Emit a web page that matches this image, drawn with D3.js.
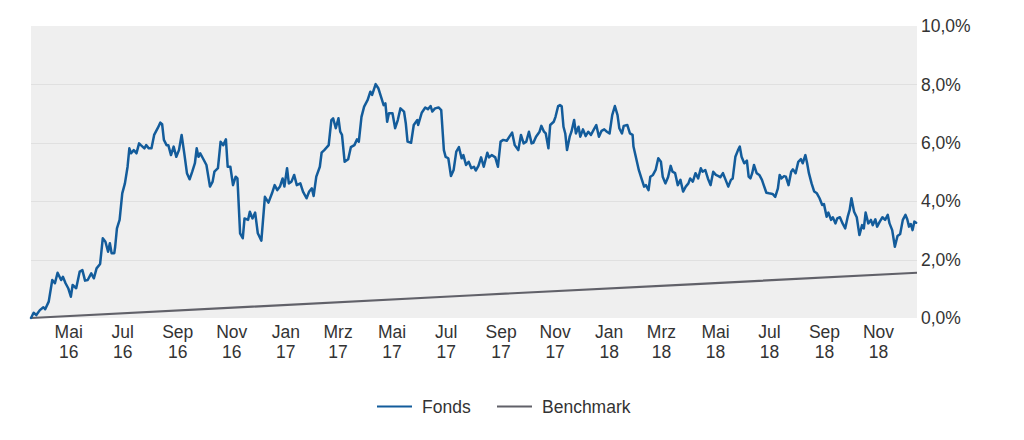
<!DOCTYPE html>
<html>
<head>
<meta charset="utf-8">
<script src="https://cdn.jsdelivr.net/npm/d3@7"></script>
<style>
  html, body { margin: 0; padding: 0; background: #ffffff; }
  svg { display: block; font-family: "Liberation Sans", Arial, sans-serif; }
</style>
</head>
<body>
<svg id="chart" width="1024" height="440"></svg>
<script>
// ---- DATA ----
const startDate = "2016-03-20";
const spanDays = 1000;

// day offsets from startDate for the Fonds series
const fondsDays = [
  0,3,6,10,14,16,20,24,27,30,
  34,36,39,42,45,47,51,55,58,61,
  64,68,71,74,78,81,84,87,89,91,
  94,95,97,100,103,106,109,111,113,116,
  119,122,124,128,130,133,136,139,143,146,
  148,150,153,155,158,161,164,167,170,173,
  176,179,182,185,187,189,191,194,198,202,
  205,207,211,214,217,220,222,225,228,231,
  233,236,239,241,245,247,250,253,256,260,
  264,268,272,275,278,281,284,286,289,291,
  294,297,300,304,307,311,314,317,319,322,
  326,328,331,334,336,339,341,344,347,349,
  351,354,358,361,365,368,370,373,376,380,
  383,385,389,392,395,398,400,402,404,408,
  411,414,417,421,423,425,429,432,436,437,
  441,445,448,451,453,456,460,463,466,468,
  471,474,477,480,483,486,488,491,494,497,
  500,502,505,508,511,515,517,520,524,527,
  530,533,537,540,543,546,550,553,556,559,
  562,565,567,570,574,576,579,581,584,586,
  590,592,595,597,599,601,603,605,608,610,
  613,615,618,620,623,626,629,632,635,638,
  641,644,647,650,653,656,659,662,664,667,
  669,673,676,679,680,683,686,689,692,694,
  697,699,702,705,708,711,713,716,719,722,
  724,727,730,733,736,739,742,744,747,750,
  753,756,758,761,764,767,770,773,776,778,
  781,784,787,790,792,795,798,800,802,805,
  808,810,812,814,816,819,822,825,827,830,
  833,837,840,843,845,847,850,852,855,858,
  860,863,866,869,871,874,876,878,881,884,
  887,890,893,895,898,900,903,905,908,910,
  913,916,919,922,924,926,929,932,935,938,
  940,942,945,948,950,953,955,958,961,964,
  967,969,972,975,978,981,984,987,989,991,
  993,995,997,999
];
// Fonds performance in %
const fondsValues = [
  0.00,0.18,0.10,0.27,0.37,0.30,0.56,1.30,1.19,1.55,
  1.30,1.41,1.19,1.02,0.73,1.13,1.02,1.59,1.64,1.28,
  1.30,1.53,1.36,1.70,1.85,2.73,2.61,2.27,2.56,2.22,
  2.22,2.44,3.07,3.36,4.27,4.61,5.18,5.81,5.64,5.75,
  5.64,5.98,5.92,5.81,5.92,5.81,5.81,6.27,6.50,6.69,
  6.64,6.10,5.92,5.92,5.58,5.87,5.52,5.75,6.27,5.64,
  4.96,4.75,5.01,5.30,5.81,5.52,5.64,5.47,5.24,4.50,
  4.67,5.01,5.13,6.04,5.92,6.12,5.18,5.18,4.55,4.84,
  4.78,2.90,2.73,3.41,3.36,3.64,3.41,3.61,2.90,2.65,
  4.15,3.95,4.27,4.55,4.38,4.50,4.78,4.50,5.13,4.61,
  4.67,4.90,4.55,4.61,4.33,4.10,4.33,4.44,4.18,4.84,
  5.18,5.66,5.75,5.85,5.92,6.78,6.84,6.50,6.84,6.38,
  6.27,5.35,5.44,5.85,5.92,6.12,6.04,6.89,7.24,7.47,
  7.75,7.64,8.01,7.87,7.58,7.29,7.35,6.72,7.01,7.01,
  6.50,6.78,7.18,7.07,6.67,6.04,6.00,6.61,6.78,6.61,
  7.03,7.21,7.15,7.26,7.07,7.18,7.21,7.12,5.75,5.52,
  5.47,4.86,5.07,5.70,5.85,5.47,5.58,5.24,5.35,5.13,
  5.18,5.05,5.21,5.50,5.18,5.66,5.50,5.58,5.50,5.18,
  6.04,6.10,6.07,6.21,6.35,5.92,5.75,6.27,5.98,6.04,
  6.38,5.98,6.00,6.21,6.38,6.58,6.38,6.32,5.81,6.61,
  6.72,6.89,7.26,7.29,7.25,6.55,6.32,5.75,6.21,6.38,
  6.78,6.32,6.55,6.21,6.46,6.23,6.38,6.27,6.44,6.61,
  6.21,6.41,6.46,6.38,6.32,6.95,7.26,6.95,6.50,6.32,
  6.58,6.61,6.32,6.27,5.87,5.47,5.07,4.78,4.50,4.55,
  4.38,4.84,4.90,5.07,5.47,5.35,4.84,4.61,4.82,5.21,
  5.01,4.96,4.55,4.73,4.33,4.50,4.61,4.78,4.67,4.96,
  4.78,5.13,5.01,5.07,4.78,4.55,5.01,4.90,4.86,4.82,
  4.96,4.73,4.50,4.73,4.78,5.52,5.75,5.87,5.52,5.30,
  5.39,4.84,4.78,4.96,5.24,4.96,4.90,4.73,4.55,4.29,
  4.27,4.25,4.15,4.44,4.90,4.78,4.86,4.84,4.55,5.01,
  5.09,4.96,5.35,5.44,5.30,5.58,5.30,4.96,4.61,4.33,
  4.27,4.10,3.87,3.90,3.47,3.61,3.36,3.45,3.24,3.41,
  3.45,3.24,3.07,3.49,3.70,4.10,3.64,3.45,2.84,3.18,
  3.07,3.61,3.24,3.36,3.18,3.38,3.13,3.30,3.45,3.36,
  3.53,3.24,3.01,2.44,2.81,2.88,3.36,3.53,3.38,3.13,
  3.22,3.01,3.30,3.26
];

// Benchmark (read at a few dates; it is a straight line)
const benchDays   = [0, 250, 500, 750, 1000];
const benchValues = [0.00, 0.39, 0.78, 1.16, 1.55];

const yTicks = [0, 2, 4, 6, 8, 10];
const monthLabels = ["Jan","Feb","Mrz","Apr","Mai","Jun","Jul","Aug","Sep","Okt","Nov","Dez"];
const seriesNames = ["Fonds", "Benchmark"];
const seriesColors = ["#135c9b", "#616169"];

// ---- CHART ----
const FS = 17.5;
const svg = d3.select("#chart");
const margin = { left: 31, right: 1024 - 917, top: 26, bottom: 440 - 318 };
const W = 1024, H = 440;
const x0 = margin.left, x1 = W - margin.right, y0 = H - margin.bottom, y1 = margin.top;

const start = d3.timeParse("%Y-%m-%d")(startDate);
const end = d3.timeDay.offset(start, spanDays);

const x = d3.scaleTime().domain([start, end]).range([x0, x1]);
const y = d3.scaleLinear().domain([0, 10]).range([y0, y1]);

const de = d3.formatLocale({ decimal: ",", thousands: ".", grouping: [3], currency: ["", " €"] });
const fmt = de.format(".1f");

// plot background
svg.append("rect")
  .attr("x", x0).attr("y", y1)
  .attr("width", x1 - x0).attr("height", y0 - y1)
  .attr("fill", "#efefef");

// gridlines
svg.append("g").selectAll("line").data(yTicks.filter(t => t > 0 && t < 10)).join("line")
  .attr("x1", x0).attr("x2", x1)
  .attr("y1", d => Math.round(y(d)) + 0.5).attr("y2", d => Math.round(y(d)) + 0.5)
  .attr("stroke", "#e0e0e0").attr("stroke-width", 1);

// y axis labels (right)
const yAxis = d3.axisRight(y).tickValues(yTicks).tickSize(0).tickPadding(4)
  .tickFormat(d => fmt(d) + "%");
const yg = svg.append("g").attr("transform", `translate(${x1},0)`).call(yAxis);
yg.select(".domain").remove();
yg.selectAll("text")
  .attr("font-size", FS).attr("fill", "#333")
  .attr("font-family", "'Liberation Sans', Arial, sans-serif");

// x axis labels (two lines)
const xTicks = d3.timeMonth.every(2).range(d3.timeMonth.ceil(start), end)
  .filter(d => d.getMonth() % 2 === 0);
const xAxis = d3.axisBottom(x).tickValues(xTicks).tickSize(0).tickFormat("");
const xg = svg.append("g").attr("transform", `translate(0,${y0})`).call(xAxis);
xg.select(".domain").remove();
xg.selectAll(".tick").each(function(d) {
  const t = d3.select(this);
  t.append("text").attr("y", 13.5).attr("dy", "0.35em").attr("text-anchor", "middle")
    .attr("font-size", FS).attr("fill", "#333")
    .text(monthLabels[d.getMonth()]);
  t.append("text").attr("y", 33.5).attr("dy", "0.35em").attr("text-anchor", "middle")
    .attr("font-size", FS).attr("fill", "#333")
    .text(d3.timeFormat("%y")(d));
});

// lines
const line = d3.line().x(d => x(d[0])).y(d => y(d[1]));

const benchData = benchDays.map((d, i) => [d3.timeDay.offset(start, d), benchValues[i]]);
svg.append("path").datum(benchData)
  .attr("d", line).attr("fill", "none")
  .attr("stroke", seriesColors[1]).attr("stroke-width", 2.2);

const fondsData = fondsDays.map((d, i) => [d3.timeDay.offset(start, d), fondsValues[i]]);
svg.append("path").datum(fondsData)
  .attr("d", line).attr("fill", "none")
  .attr("stroke", seriesColors[0]).attr("stroke-width", 2.5)
  .attr("stroke-linejoin", "round").attr("stroke-linecap", "round");

// legend
const legendItems = [
  { name: seriesNames[0], color: seriesColors[0], lx: 377 },
  { name: seriesNames[1], color: seriesColors[1], lx: 497 }
];
const lg = svg.append("g");
legendItems.forEach(it => {
  lg.append("line").attr("x1", it.lx).attr("x2", it.lx + 35)
    .attr("y1", 406.5).attr("y2", 406.5)
    .attr("stroke", it.color).attr("stroke-width", 2.2);
  lg.append("text").attr("x", it.lx + 45).attr("y", 406.5).attr("dy", "0.35em")
    .attr("font-size", FS).attr("fill", "#333").text(it.name);
});
</script>
</body>
</html>
